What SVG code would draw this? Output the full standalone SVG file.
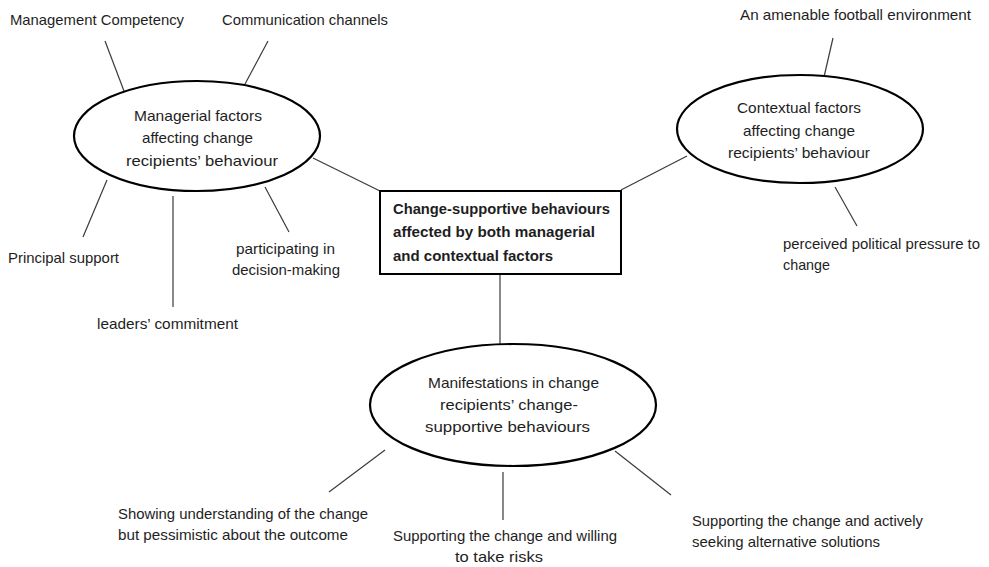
<svg xmlns="http://www.w3.org/2000/svg" width="989" height="567" viewBox="0 0 989 567">
<style>
.bg{fill:#fff}
.conn line{stroke:#3a3a3a;stroke-width:1.2}
.ell{fill:#fff;stroke:#000;stroke-width:2.2}
.box{fill:#fff;stroke:#000;stroke-width:2}
text{font-family:"Liberation Sans",Arial,sans-serif;font-size:15px;fill:#1e1e1e}
.c{text-anchor:middle}
.b{font-weight:bold}
</style>
<rect class="bg" width="989" height="567"/>
<g id="connectors" class="conn">
<line x1="105" y1="41" x2="124" y2="91"/>
<line x1="268" y1="41" x2="245" y2="84"/>
<line x1="313" y1="158" x2="380" y2="191"/>
<line x1="107" y1="180" x2="83" y2="237"/>
<line x1="173" y1="196" x2="173" y2="307"/>
<line x1="265" y1="187" x2="289" y2="232"/>
<line x1="621" y1="190" x2="687" y2="156"/>
<line x1="833" y1="38" x2="824" y2="77"/>
<line x1="835" y1="187" x2="857" y2="226"/>
<line x1="500" y1="274" x2="500" y2="344"/>
<line x1="385" y1="450" x2="329" y2="492"/>
<line x1="503" y1="472" x2="503" y2="520"/>
<line x1="615" y1="451" x2="671" y2="495"/>
</g>
<g id="managerial">
<ellipse class="ell" cx="197" cy="136" rx="123" ry="55"/>
<text x="134" y="121" textLength="128" lengthAdjust="spacingAndGlyphs">Managerial factors</text>
<text x="142" y="143" textLength="111" lengthAdjust="spacingAndGlyphs">affecting change</text>
<text x="126" y="166" textLength="152" lengthAdjust="spacingAndGlyphs">recipients’ behaviour</text>
</g>
<g id="contextual">
<ellipse class="ell" cx="800" cy="129" rx="123" ry="54"/>
<text x="737" y="113" textLength="124" lengthAdjust="spacingAndGlyphs">Contextual factors</text>
<text x="743" y="136" textLength="112" lengthAdjust="spacingAndGlyphs">affecting change</text>
<text x="728" y="158" textLength="142" lengthAdjust="spacingAndGlyphs">recipients’ behaviour</text>
</g>
<g id="central">
<rect class="box" x="380" y="191" width="241" height="83"/>
<text class="b" x="393" y="214" textLength="217" lengthAdjust="spacingAndGlyphs">Change-supportive behaviours</text>
<text class="b" x="393" y="237" textLength="202" lengthAdjust="spacingAndGlyphs">affected by both managerial</text>
<text class="b" x="393" y="261" textLength="160" lengthAdjust="spacingAndGlyphs">and contextual factors</text>
</g>
<g id="manifestations">
<ellipse class="ell" cx="513" cy="405" rx="143" ry="61"/>
<text x="428" y="388" textLength="171" lengthAdjust="spacingAndGlyphs">Manifestations in change</text>
<text x="440" y="410" textLength="138" lengthAdjust="spacingAndGlyphs">recipients’ change-</text>
<text x="425" y="432" textLength="165" lengthAdjust="spacingAndGlyphs">supportive behaviours</text>
</g>
<g id="management-competency"><text x="10" y="25" textLength="174" lengthAdjust="spacingAndGlyphs">Management Competency</text></g>
<g id="communication-channels"><text x="222" y="25" textLength="166" lengthAdjust="spacingAndGlyphs">Communication channels</text></g>
<g id="principal-support"><text x="8" y="263" textLength="111" lengthAdjust="spacingAndGlyphs">Principal support</text></g>
<g id="leaders-commitment"><text x="97" y="329" textLength="141" lengthAdjust="spacingAndGlyphs">leaders’ commitment</text></g>
<g id="participating">
<text x="236" y="254" textLength="99" lengthAdjust="spacingAndGlyphs">participating in</text>
<text x="232" y="275" textLength="108" lengthAdjust="spacingAndGlyphs">decision-making</text>
</g>
<g id="football-environment"><text x="740" y="20" textLength="231" lengthAdjust="spacingAndGlyphs">An amenable football environment</text></g>
<g id="political-pressure">
<text x="783" y="249" textLength="197" lengthAdjust="spacingAndGlyphs">perceived political pressure to</text>
<text x="783" y="270" textLength="47" lengthAdjust="spacingAndGlyphs">change</text>
</g>
<g id="showing-understanding">
<text x="118" y="519" textLength="250" lengthAdjust="spacingAndGlyphs">Showing understanding of the change</text>
<text x="118" y="540" textLength="230" lengthAdjust="spacingAndGlyphs">but pessimistic about the outcome</text>
</g>
<g id="willing-risks">
<text x="393" y="541" textLength="224" lengthAdjust="spacingAndGlyphs">Supporting the change and willing</text>
<text x="455" y="562" textLength="88" lengthAdjust="spacingAndGlyphs">to take risks</text>
</g>
<g id="alternative-solutions">
<text x="692" y="526" textLength="231" lengthAdjust="spacingAndGlyphs">Supporting the change and actively</text>
<text x="692" y="547" textLength="188" lengthAdjust="spacingAndGlyphs">seeking alternative solutions</text>
</g>
</svg>
